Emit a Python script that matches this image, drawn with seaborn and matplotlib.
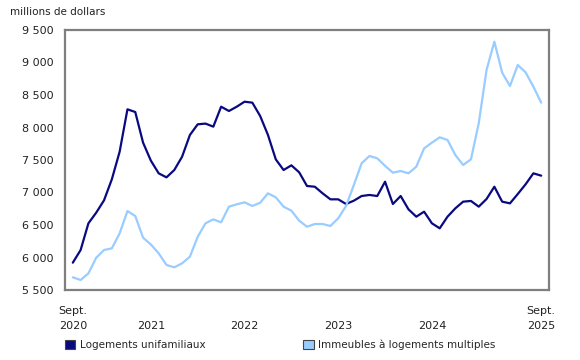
import numpy as np
import pandas as pd
import matplotlib
matplotlib.use("Agg")
import matplotlib.pyplot as plt
from matplotlib.patches import Patch
from matplotlib.ticker import FixedLocator, FuncFormatter
import seaborn as sns

# ---- data ----
months = pd.date_range("2020-09-01", "2025-09-01", freq="MS")
single_family = [5920, 6115, 6526, 6690, 6880, 7203, 7628, 8280, 8238, 7767,
                 7490, 7295, 7233, 7346, 7551, 7885, 8049, 8060, 8013, 8320,
                 8254, 8320, 8397, 8382, 8177, 7885, 7510, 7346, 7418, 7310,
                 7100, 7089, 6987, 6895, 6895, 6823, 6874, 6946, 6962, 6946,
                 7166, 6823, 6946, 6741, 6628, 6705, 6526, 6449, 6628, 6756,
                 6859, 6870, 6782, 6900, 7089, 6859, 6833, 6977, 7126, 7295,
                 7259]
multi_unit = [5695, 5654, 5756, 5997, 6115, 6141, 6372, 6715, 6638, 6305,
              6200, 6064, 5885, 5849, 5910, 6013, 6320, 6526, 6587, 6541,
              6782, 6818, 6849, 6792, 6843, 6987, 6926, 6782, 6720, 6566,
              6474, 6515, 6515, 6485, 6603, 6792, 7115, 7449, 7562, 7526,
              7410, 7305, 7331, 7295, 7397, 7679, 7767, 7849, 7808, 7577,
              7423, 7510, 8065, 8885, 9320, 8844, 8638, 8962, 8849, 8628,
              8382]
series_names = ["Logements unifamiliaux", "Immeubles à logements multiples"]
colors = ["#0a0a80", "#99ccff"]
y_ticks = [5500, 6000, 6500, 7000, 7500, 8000, 8500, 9000, 9500]
y_label = "millions de dollars"

n = len(months)
df = pd.DataFrame({
    "x": list(range(n)) * 2,
    "value": single_family + multi_unit,
    "series": [series_names[0]] * n + [series_names[1]] * n,
})

sns.set_style("white")
plt.rcParams["font.family"] = ["DejaVu Sans"]

fig = plt.figure(figsize=(5.8, 3.6), dpi=100)
ax = fig.add_axes([65 / 580, 1 - 290 / 360, (549 - 65) / 580, (290 - 30) / 360])

sns.lineplot(data=df, x="x", y="value", hue="series", palette=colors,
             hue_order=series_names, linewidth=1.6, ax=ax, legend=False)

ax.set_xlim(-1, 61)
ax.set_ylim(5500, 9500)
ax.set_xlabel("")
ax.set_ylabel("")

for s in ax.spines.values():
    s.set_color("#7f7f7f")
    s.set_linewidth(1.6)

ax.yaxis.set_major_locator(FixedLocator(y_ticks))
ax.yaxis.set_major_formatter(FuncFormatter(lambda v, p: f"{int(v):,}".replace(",", " ")))
ax.tick_params(axis="y", direction="in", length=3, width=1, color="#7f7f7f",
               labelsize=8, pad=8, labelcolor="#222222")

jan_idx = [i for i, m in enumerate(months) if m.month == 1]
ax.xaxis.set_major_locator(FixedLocator(jan_idx))
ax.xaxis.set_minor_locator(FixedLocator(list(range(n))))
ax.tick_params(axis="x", which="major", direction="in", length=11, width=1.4,
               color="#555555", labelbottom=False)
ax.tick_params(axis="x", which="minor", direction="in", length=4, width=1,
               color="#555555")

trans = ax.get_xaxis_transform()
ax.text(0, -0.06, "Sept.", transform=trans, ha="center", va="top", fontsize=8, color="#222222")
ax.text(0, -0.12, str(months[0].year), transform=trans, ha="center", va="top", fontsize=8, color="#222222")
ax.text(n - 1, -0.06, "Sept.", transform=trans, ha="center", va="top", fontsize=8, color="#222222")
ax.text(n - 1, -0.12, str(months[-1].year), transform=trans, ha="center", va="top", fontsize=8, color="#222222")
for j in jan_idx:
    if j + 11 <= n - 1:
        ax.text(j + 6, -0.12, str(months[j].year), transform=trans, ha="center", va="top",
                fontsize=8, color="#222222")

fig.text(10 / 580, 1 - 12 / 360, y_label, ha="left", va="center", fontsize=7.5, color="#222222")

handles = [Patch(facecolor=c, edgecolor="#444444", linewidth=0.8) for c in colors]
fig.legend(handles, series_names, loc="center left", bbox_to_anchor=(65 / 580, 1 - 345 / 360),
           ncol=2, frameon=False, fontsize=7.5, handlelength=1.0, handleheight=1.0,
           handletextpad=0.4, columnspacing=9.4, borderaxespad=0, borderpad=0)

fig.savefig("out.png", dpi=100)
